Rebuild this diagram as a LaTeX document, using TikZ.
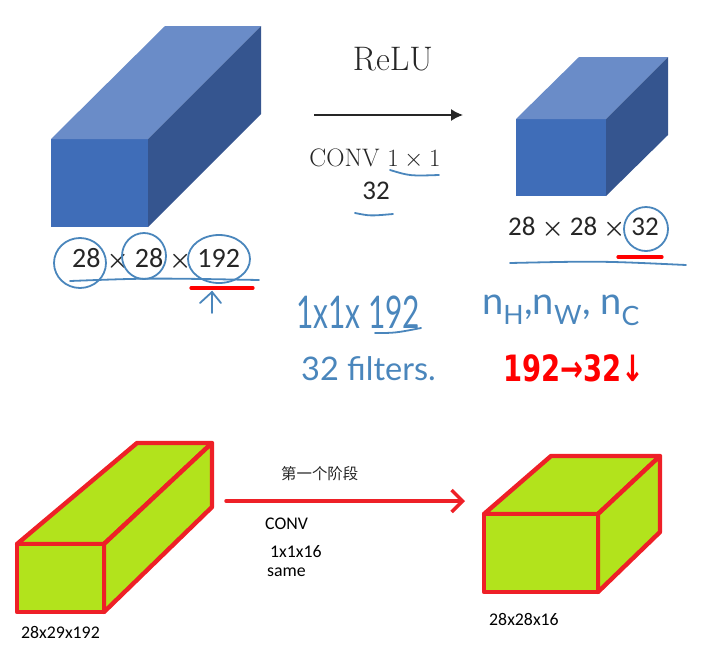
\documentclass[tikz,border=0pt]{standalone}
\usepackage{amsmath}
\usepackage{graphicx}
\usepackage{fontspec}
\usetikzlibrary{arrows.meta}
\newfontfamily\cjk{Noto Sans CJK SC}
\newfontfamily\calib{Carlito}
\newfontfamily\hand{Lato}
\newfontfamily\handred{DejaVu Sans}
\newcommand{\bx}{\hspace{6pt}$\boldsymbol{\times}$\hspace{6pt}}
\definecolor{frontblue}{HTML}{3F6DB8}
\definecolor{topblue}{HTML}{6A8CC8}
\definecolor{sideblue}{HTML}{35558F}
\definecolor{penblue}{HTML}{4A86BC}
\definecolor{boxred}{HTML}{EE2027}
\definecolor{boxgreen}{HTML}{B2E31C}
\tikzset{
	pen/.style={penblue, line width=1.8pt, line cap=round},
	redpen/.style={red, line width=3.2pt, line cap=round},
	edge/.style={boxred, line width=4.4pt, line join=round, fill=boxgreen},
	small/.style={inner sep=0pt, anchor=west, font=\calib\fontsize{17.8}{19}\selectfont}
}
\begin{document}
\begin{tikzpicture}[x=1pt, y=-1pt]
				\useasboundingbox (0,0) rectangle (718,654);
				
				% Define coordinates
				\coordinate (A1) at (51,139);
				\coordinate (A2) at (148,139);
				\coordinate (A3) at (148,227);
				\coordinate (A4) at (51,227);
				\coordinate (A5) at (165,26);
				\coordinate (A6) at (261,26);
				\coordinate (A7) at (261,114);
				
				\coordinate (B1) at (516,119);
				\coordinate (B2) at (606,119);
				\coordinate (B3) at (606,196);
				\coordinate (B4) at (516,196);
				\coordinate (B5) at (579,57);
				\coordinate (B6) at (668,57);
				\coordinate (B7) at (668,135);
				
				\coordinate (C1) at (17,544);
				\coordinate (C2) at (104,544);
				\coordinate (C3) at (104,612);
				\coordinate (C4) at (17,612);
				\coordinate (C5) at (137,443);
				\coordinate (C6) at (212,443);
				\coordinate (C7) at (212,507);
				
				\coordinate (D1) at (484,514);
				\coordinate (D2) at (598,514);
				\coordinate (D3) at (598,592);
				\coordinate (D4) at (484,592);
				\coordinate (D5) at (551,456);
				\coordinate (D6) at (660,456);
				\coordinate (D7) at (660,532);
				
				% Blue boxes
				\fill[frontblue] (A1) -- (A2) -- (A3) -- (A4) -- cycle;
				\fill[topblue] (A1) -- (A5) -- (A6) -- (A2) -- cycle;
				\fill[sideblue] (A2) -- (A6) -- (A7) -- (A3) -- cycle;
				\fill[frontblue] (B1) -- (B2) -- (B3) -- (B4) -- cycle;
				\fill[topblue] (B1) -- (B5) -- (B6) -- (B2) -- cycle;
				\fill[sideblue] (B2) -- (B6) -- (B7) -- (B3) -- cycle;
				
				% Top labels
				\node[inner sep=0pt, text=black!85, font=\fontsize{34}{36}\selectfont] (relu) at (393,59) {ReLU};
				\node[inner sep=0pt, text=black!85, font=\fontsize{25.3}{27}\selectfont] (conv) at (375,159) {CONV $1\times1$};
				\node[inner sep=0pt, text=black!85, font=\calib\fontsize{27}{28}\selectfont] (num) at (376,191) {32};
				\node[inner sep=0pt, anchor=west, text=black!85, font=\calib\fontsize{28}{30}\selectfont] (dimA) at (72,260) {28\bx 28\bx 192};
				\node[inner sep=0pt, anchor=west, text=black!85, font=\calib\fontsize{27}{28}\selectfont] (dimB) at (508,228) {28\bx 28\bx 32};
				
				\coordinate (R1) at (314,115);
				\coordinate (R2) at (463,115);
				\draw[-{Latex[length=12pt,width=12pt]}, line width=1.5pt, black!85] (R1) -- (R2);
				
				% Pen marks
				\draw[pen] (80,263) ellipse (26 and 25);
				\draw[pen] (144,256) ellipse (22 and 23);
				\draw[pen] (219,259) ellipse (31 and 24);
				\draw[pen] (646,229) ellipse (22 and 22);
				\draw[pen] (70,281) .. controls (150,278) .. (259,280);
				\draw[pen] (510,263) .. controls (600,261) .. (686,265);
				\draw[pen] (390,170) .. controls (410,176) .. (439,175);
				\draw[pen] (355,213) .. controls (370,216) .. (393,214);
				\draw[pen] (375,333) .. controls (395,333) .. (421,328);
				\draw[pen] (212,313) -- (212,292);
				\draw[pen] (200,303) -- (212,292) -- (221,303);
				\draw[redpen] (191,288) -- (253,288);
				\draw[redpen] (618,257) -- (662,257);
				
				\node[inner sep=0pt, anchor=west, penblue, font=\hand\fontsize{36}{38}\selectfont] (kernel) at (296,312) {\scalebox{.83}[1.25]{1x1x 192}};
				\node[inner sep=0pt, anchor=west, penblue, font=\hand\fontsize{32.5}{34}\selectfont] (filters) at (301,369) {32 filters.};
				\node[inner sep=0pt, anchor=west, penblue, font=\hand\fontsize{38}{40}\selectfont] (channels) at (482,310) {n\textsubscript{H},n\textsubscript{W}, n\textsubscript{C}};
				\node[inner sep=0pt, anchor=west, red, font=\handred\bfseries\fontsize{29}{32}\selectfont] (reduce) at (503,368) {\scalebox{.945}[1.25]{192→32↓}};
				
				% Green boxes
				\draw[edge] (C1) -- (C5) -- (C6) -- (C2) -- cycle;
				\draw[edge] (C2) -- (C6) -- (C7) -- (C3) -- cycle;
				\draw[edge] (C1) -- (C2) -- (C3) -- (C4) -- cycle;
				\draw[edge] (D1) -- (D5) -- (D6) -- (D2) -- cycle;
				\draw[edge] (D2) -- (D6) -- (D7) -- (D3) -- cycle;
				\draw[edge] (D1) -- (D2) -- (D3) -- (D4) -- cycle;
				
				\coordinate (S1) at (226,501);
				\coordinate (S2) at (465,501);
				\draw[-{Straight Barb[length=11pt,width=22pt]}, boxred, line width=3.5pt, line cap=round] (S1) -- (S2);
				
				% Bottom labels
				\node[inner sep=0pt, anchor=west, text=black!85, font=\cjk\fontsize{15.4}{17}\selectfont] (stage) at (281,474) {第一个阶段};
				\node[small] (convB) at (265,524) {CONV};
				\node[small] (size) at (270,552) {1x1x16};
				\node[small] (same) at (267,572) {same};
				\node[small] (dimC) at (21,632) {28x29x192};
				\node[small] (dimD) at (489,619) {28x28x16};
			\end{tikzpicture}
\end{document}
